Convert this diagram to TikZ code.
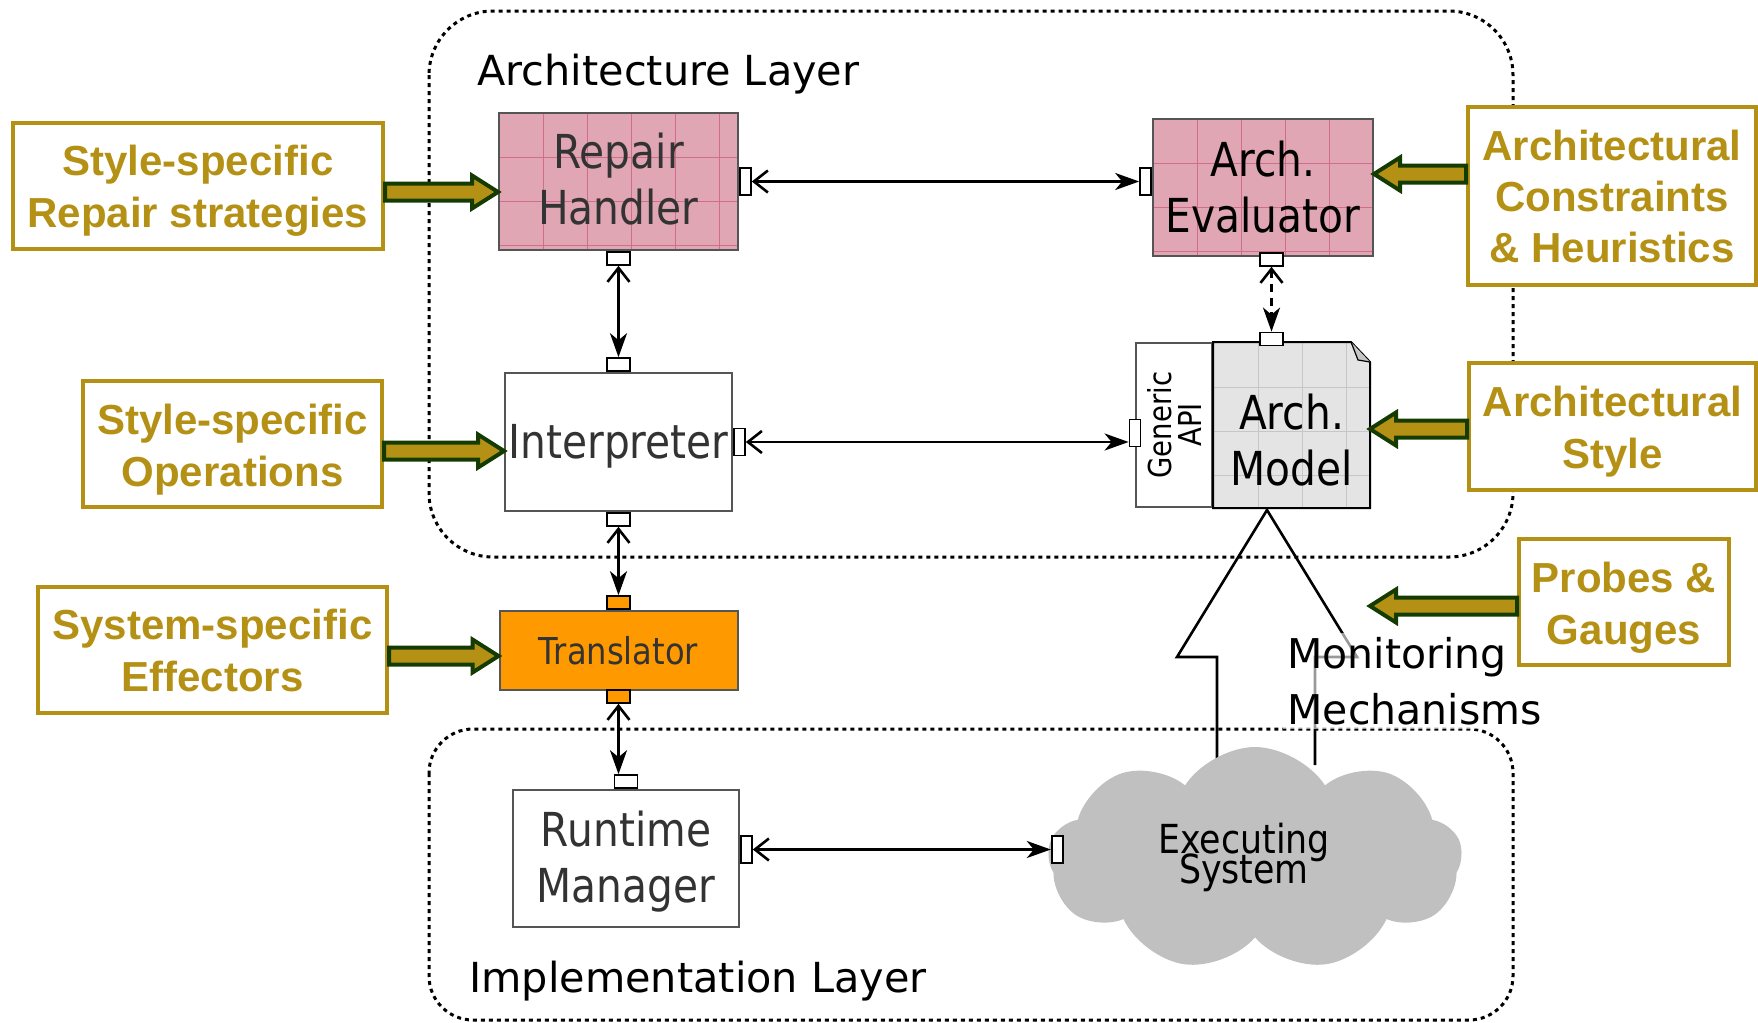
\documentclass[tikz,border=0pt]{standalone}
\usepackage{fontspec}
\setmainfont{DejaVu Sans}
\newfontfamily\boxfont{DejaVu Sans}[FakeStretch=0.87]
\newfontfamily\olivefont{Liberation Sans}
\usetikzlibrary{arrows.meta,calc,positioning,shapes.symbols}

\definecolor{strategygold}{RGB}{180,145,20}
\definecolor{arrowgreen}{RGB}{20,60,0}
\definecolor{repairpink}{RGB}{224,166,180}
\definecolor{pinkline}{RGB}{210,108,138}
\definecolor{modelgray}{RGB}{228,228,228}
\definecolor{modelline}{RGB}{198,198,198}
\definecolor{translatororange}{RGB}{255,153,0}
\definecolor{cloudgray}{RGB}{192,192,192}
\definecolor{labelgray}{RGB}{51,51,51}
\definecolor{edgegray}{RGB}{85,85,85}

% faint cell lines inside the textured boxes
\newcommand{\cellgrid}[1]{%
  \foreach \k in {1,...,8}{
    \draw[#1, line width=0.5pt] ([xshift=\k*22pt]path picture bounding box.north west) -- ++(0pt,-200pt);
    \draw[#1, line width=0.5pt] ([yshift=-\k*22pt]path picture bounding box.north west) -- ++(200pt,0pt);
  }}

% text set lower in its box, box size kept
\newcommand{\lowerby}[2]{\raisebox{-#1}[\height][\depth]{\begin{tabular}{@{}c@{}}#2\end{tabular}}}
% lines allowed to overlap
\newcommand{\tightlines}{\lineskiplimit=-20pt\relax}

% fat input arrow: start point, target, direction (1 right, -1 left)
\newcommand{\fatarrow}[3]{%
  \draw[fatarr] let \p1=#1, \p2=(#2) in
    ({\x1},{\y1+4.25pt}) -- ({\x2-(#3)*13pt},{\y1+4.25pt}) -- ({\x2-(#3)*13pt},{\y1+8.25pt})
    -- ({\x2},{\y1}) -- ({\x2-(#3)*13pt},{\y1-8.25pt}) -- ({\x2-(#3)*13pt},{\y1-4.25pt})
    -- ({\x1},{\y1-4.25pt}) -- cycle;}

\tikzset{
  layer/.style={line width=1.5pt, dash pattern=on 2pt off 2pt},
  comp/.style={draw=edgegray, line width=1pt, inner sep=0pt, align=center,
    text=labelgray, font=\boxfont\fontsize{23.4}{28}\selectfont},
  pinkcomp/.style={comp, fill=repairpink, path picture={\cellgrid{pinkline}}},
  modelcomp/.style={comp, draw=none, fill=modelgray, text=black,
    path picture={\cellgrid{modelline}}},
  vport/.style={draw, fill=white, line width=0.9pt, minimum width=5.5pt,
    minimum height=13.5pt, inner sep=0pt},
  hport/.style={draw, fill=white, line width=0.9pt, minimum width=11.5pt,
    minimum height=6.5pt, inner sep=0pt},
  conn/.style={line width=1.3pt,
    arrows={Straight Barb[length=7pt,width=11pt]-Stealth[length=12pt,width=8.5pt,inset=3.5pt]}},
  olivebox/.style={draw=strategygold, line width=2pt, fill=white, text=strategygold,
    inner sep=0pt, align=center, font=\olivefont\bfseries\fontsize{21}{26}\selectfont},
  fatarr/.style={fill=strategygold, draw=arrowgreen, line width=2pt, line join=miter},
}

\begin{document}
\begin{tikzpicture}[x=0.5pt, y=-0.5pt]
    \useasboundingbox (0,0) rectangle (1758,1023);

    % layers
    \draw[layer, rounded corners=32pt] (429,11) rectangle (1513,557);
    \draw[layer, rounded corners=22pt] (429,729) rectangle (1513,1020);
    \node[anchor=base west, inner sep=0pt, font=\fontsize{20.7}{24}\selectfont] (archlabel)
        at (477,85) {Architecture Layer};
    \node[anchor=base west, inner sep=0pt, font=\fontsize{20.7}{24}\selectfont] (impllabel)
        at (469,992) {Implementation Layer};

    % monitoring arrow and executing system
    \draw[line width=1.3pt, line join=miter] (1217,765) -- (1217,657) -- (1177,657)
        -- (1267,510) -- (1357,657) -- (1315,657) -- (1315,765);
    \node[cloud, cloud puffs=9, cloud puff arc=115, aspect=1.9, fill=cloudgray, inner sep=0pt,
        minimum width=207pt, minimum height=112pt] (exec) at (1255,859) {};
    \node[font=\boxfont\fontsize{20}{15}\selectfont\tightlines, align=center] (exectext)
        at (1244,857) {Executing\\System};
    \node[anchor=north west, align=left, fill=white, fill opacity=0.6, text opacity=1,
        inner sep=2pt, font=\fontsize{20.5}{28}\selectfont] (mon) at (1283,633) {Monitoring\\Mechanisms};

    % components
    \node[pinkcomp, minimum width=119.5pt, minimum height=68.5pt] (rh) at (618.5,181.5) {\lowerby{2pt}{Repair\\Handler}};
    \node[pinkcomp, text=black, minimum width=110pt, minimum height=68.5pt] (ae) at (1263,187.5) {Arch.\\Evaluator};
    \node[comp, fill=white, minimum width=113.5pt, minimum height=69pt, below=60.5pt of rh] (interp) {\lowerby{2.5pt}{Interpreter}};
    \node[comp, fill=translatororange, font=\boxfont\fontsize{18.5}{22}\selectfont,
        minimum width=119pt, minimum height=39.5pt, below=49pt of interp] (tr) {Translator};
    \node[comp, fill=white, minimum width=113pt, minimum height=68.5pt] (rm) at (626,858.5) {\lowerby{2.5pt}{Runtime\\Manager}};
    \node[comp, fill=white, minimum width=38pt, minimum height=82pt] (api) at (1174,425) {};
    \node[rotate=90, align=center, text=black,
        font=\boxfont\fontsize{15.8}{15}\selectfont\tightlines] (apitext) at (api) {Generic\\API};
    \node[modelcomp, minimum width=77.5pt, minimum height=82pt, anchor=west] (am) at (api.east) {\lowerby{10.5pt}{Arch.\\Model}};
    \fill[white] ([xshift=-9.5pt]am.north east) -- (am.north east) -- ([yshift=-10pt]am.north east) -- cycle;
    \draw[line width=1pt] (am.north west) -- ([xshift=-9.5pt]am.north east)
        -- ([yshift=-10pt]am.north east) -- (am.south east) -- (am.south west) -- cycle;
    \draw[line width=0.6pt, fill=gray!45] ([xshift=-9.5pt]am.north east)
        -- ([xshift=-6pt,yshift=-9pt]am.north east) -- ([yshift=-10pt]am.north east);

    % ports
    \node[vport, anchor=west] (rhr) at (rh.east) {};
    \node[hport, anchor=north] (rhb) at (rh.south) {};
    \node[vport, anchor=east] (ael) at (ae.west |- rhr) {};
    \node[hport, anchor=north, yshift=2.5pt] (aeb) at ([xshift=4.25pt]ae.south) {};
    \node[hport, yshift=1.5pt] (amt) at (aeb |- am.north) {};
    \node[hport, anchor=south] (ipt) at (interp.north) {};
    \node[vport, anchor=west] (ipr) at (interp.east) {};
    \node[hport, anchor=north] (ipb) at (interp.south) {};
    \node[vport, yshift=-4pt] (apil) at (api.west) {};
    \node[hport, fill=translatororange, anchor=south] (trt) at (tr.north) {};
    \node[hport, fill=translatororange, anchor=north, yshift=1pt] (trb) at (tr.south) {};
    \node[hport, anchor=south] (rmt) at (rm.north) {};
    \node[vport, anchor=west, yshift=4.5pt] (rmr) at (rm.east) {};
    \node[vport, right=149pt of rmr] (exl) {};

    % connectors
    \draw[conn] (rhr) -- (ael);
    \draw[conn] (rhb) -- (rhb |- ipt.north);
    \draw[conn, dash pattern=on 4pt off 3pt] (aeb) -- (amt);
    \draw[conn] (ipr) -- (ipr -| apil.west);
    \draw[conn] (ipb) -- (ipb |- trt.north);
    \draw[conn] (trb) -- (trb |- rmt.north);
    \draw[conn] (rmr) -- (exl);

    % inputs
    \node[olivebox, minimum width=185pt, minimum height=63pt] (lb1) at (198,186) {\lowerby{2.5pt}{Style-specific\\Repair strategies}};
    \node[olivebox, minimum width=149.5pt, minimum height=63pt] (lb2) at (232.5,444) {\lowerby{3pt}{Style-specific\\Operations}};
    \node[olivebox, minimum width=174.5pt, minimum height=63pt] (lb3) at (212.5,650) {System-specific\\Effectors};
    \node[olivebox, minimum width=144pt, minimum height=89pt,
        font=\olivefont\bfseries\fontsize{21}{25.5}\selectfont] (rb1) at (1612,196) {Architectural\\Constraints\\\& Heuristics};
    \node[olivebox, minimum width=143.5pt, minimum height=63.5pt] (rb2) at (1612.5,426.5) {\lowerby{3pt}{Architectural\\Style}};
    \node[olivebox, minimum width=105pt, minimum height=63pt] (rb3) at (1624,602) {\lowerby{3pt}{Probes \&\\Gauges}};
    \coordinate (probetip) at (1370,606);

    \fatarrow{([yshift=-3pt]lb1.east)}{rh.west}{1}
    \fatarrow{([yshift=-3.5pt]lb2.east)}{interp.west}{1}
    \fatarrow{([yshift=-3pt]lb3.east)}{tr.west}{1}
    \fatarrow{([yshift=11pt]rb1.west)}{ae.east}{-1}
    \fatarrow{([yshift=-1.25pt]rb2.west)}{am.east}{-1}
    \fatarrow{([yshift=-2pt]rb3.west)}{probetip}{-1}
\end{tikzpicture}
\end{document}
